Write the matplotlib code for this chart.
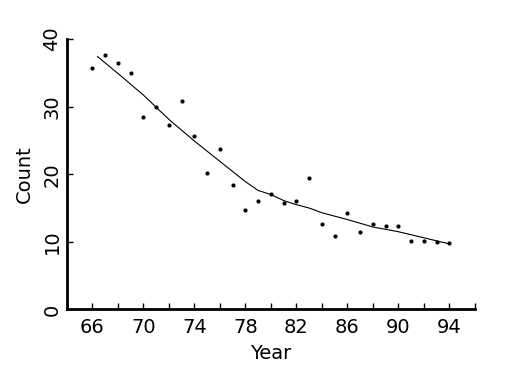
import matplotlib
matplotlib.use("Agg")
import matplotlib.pyplot as plt

# observed counts per year
years = [66, 67, 68, 69, 70, 71, 72, 73, 74, 75, 76, 77, 78, 79, 80,
         81, 82, 83, 84, 85, 86, 87, 88, 89, 90, 91, 92, 93, 94]
counts = [35.7, 37.7, 36.4, 34.9, 28.4, 29.9, 27.3, 30.9, 25.6, 20.2,
          23.7, 18.4, 14.7, 16.1, 17.1, 15.8, 16.1, 19.4, 12.6, 10.8,
          14.3, 11.4, 12.7, 12.4, 12.4, 10.1, 10.1, 9.96, 9.8]

# smooth curve
smooth_years = [66.4, 68, 69, 70, 71, 72, 73, 74, 75, 76, 77, 78, 79, 80,
                81, 82, 83, 84, 86, 88, 90, 92, 94]
smooth_counts = [37.4, 34.9, 33.3, 31.7, 29.9, 28.1, 26.5, 24.9, 23.4, 21.9,
                 20.4, 18.9, 17.6, 17.0, 16.1, 15.5, 15.0, 14.3, 13.3, 12.2,
                 11.5, 10.6, 9.7]

xticks = [66, 70, 74, 78, 82, 86, 90, 94]
yticks = [0, 10, 20, 30, 40]

fig = plt.figure(figsize=(5.25, 3.75), dpi=100)
ax = fig.add_axes([0.1276, 0.1747, 0.777, 0.7213])

ax.plot(years, counts, "o", color="black", ms=3, mew=0)
ax.plot(smooth_years, smooth_counts, "-", color="black", lw=0.8)

ax.set_xlim(64, 96)
ax.set_ylim(0, 40)
ax.set_xticks(range(64, 97, 2))
ax.set_xticklabels([str(t) if t in xticks else "" for t in range(64, 97, 2)])
ax.set_yticks(yticks)
ax.set_yticklabels([str(t) for t in yticks], rotation=90, va="center")

for s in ["top", "right"]:
    ax.spines[s].set_visible(False)
for s in ["left", "bottom"]:
    ax.spines[s].set_linewidth(2)

ax.tick_params(direction="in", length=4, width=1, labelsize=14, pad=6,
               colors="black")
ax.tick_params(axis="y", pad=4)
ax.set_xlabel("Year", fontsize=14, labelpad=5)
ax.set_ylabel("Count", fontsize=14, labelpad=6)

fig.savefig("out.png", dpi=100)
